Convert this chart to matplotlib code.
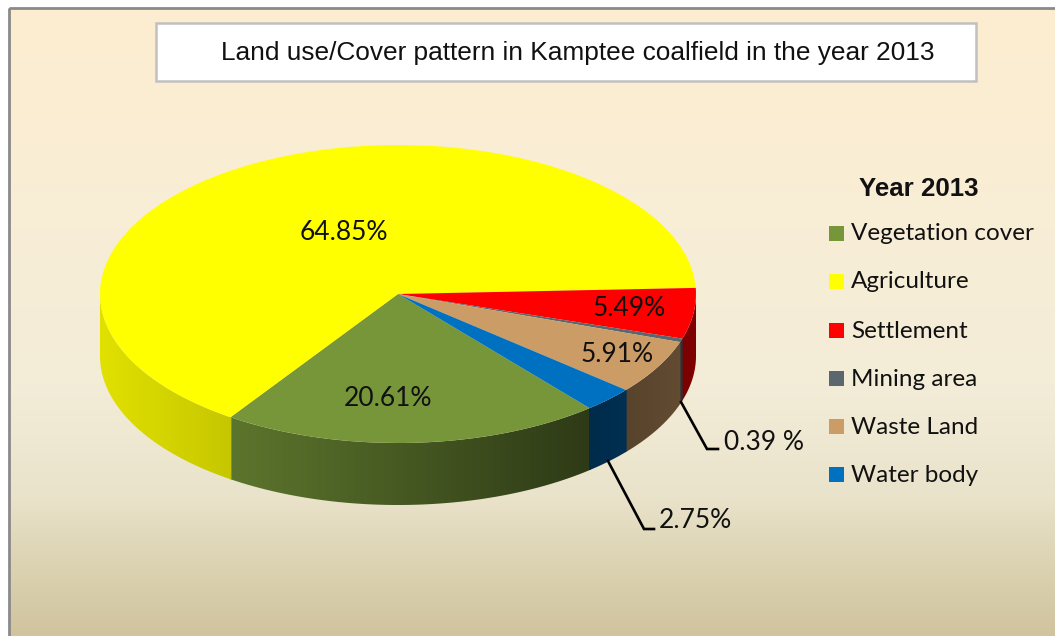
import numpy as np
import matplotlib
matplotlib.use('Agg')
import matplotlib.pyplot as plt
from matplotlib.colors import LinearSegmentedColormap, to_rgb
from matplotlib.patches import Rectangle, Polygon

categories = ['Vegetation cover', 'Agriculture', 'Settlement', 'Mining area', 'Waste Land', 'Water body']
values = [20.61, 64.85, 5.49, 0.39, 5.91, 2.75]
colors = ['#769639', '#ffff00', '#ff0000', '#5b666e', '#cc9c66', '#0070c0']
value_labels = ['20.61%', '64.85%', '5.49%', '0.39 %', '5.91%', '2.75%']
title = 'Land use/Cover pattern in Kamptee coalfield in the year 2013'
legend_title = 'Year 2013'

W, H = 1055, 636
CX, CY, RX, RY, DEPTH = 398, 294, 298, 149, 62
START = -50

BODY = ['Lato', 'DejaVu Sans']
HEAD = ['Liberation Sans', 'DejaVu Sans']

fig = plt.figure(figsize=(W / 100, H / 100), dpi=100, facecolor='white')

# background gradient
ax_bg = fig.add_axes([0, 0, 1, 1], zorder=0)
cmap = LinearSegmentedColormap.from_list('parchment', [
    (0, '#fdedd0'), (0.35, '#f8eed6'), (0.6, '#f3ecd8'), (0.78, '#eae3cb'), (0.85, '#e0d8ba'), (1, '#d0c49e')])
ax_bg.imshow(np.linspace(0, 1, 256).reshape(-1, 1), cmap=cmap, aspect='auto', extent=(9, W, H, 8))
ax_bg.set_xlim(0, W)
ax_bg.set_ylim(H, 0)
ax_bg.axis('off')

# pie: one axes covering the figure, stretched to get the ellipse
ax = fig.add_axes([0, 0, 1, 1], zorder=1)
ax.patch.set_visible(False)
wedges, _ = ax.pie(values, colors=colors, startangle=START, counterclock=False,
                   radius=1, wedgeprops=dict(linewidth=0, zorder=3))

# side wall, darker towards the right
edges = START - np.cumsum([0] + values) * 3.6
d = DEPTH / RY
for i, c in enumerate(colors):
    # small overlap so no gap shows between neighbours
    ts = np.radians(np.linspace(edges[i] + 0.2, edges[i + 1] - 0.2, 400))
    ts = ts[np.sin(ts) <= 0]
    if len(ts) < 2:
        continue
    xs = np.cos(ts)
    ys = np.sin(ts)
    poly = np.column_stack([np.r_[xs, xs[::-1]], np.r_[ys, ys[::-1] - d]])
    xg = np.linspace(xs.min(), xs.max(), 64)
    shade = np.interp(CX + RX * xg, [100, 230, 590, 696], [0.88, 0.78, 0.39, 0.5])
    img = np.clip(shade[None, :, None] * np.array(to_rgb(c))[None, None, :], 0, 1)
    im = ax.imshow(img, aspect='auto', interpolation='bilinear', zorder=2,
                   extent=(xs.min(), xs.max(), ys.min() - d, ys.max()))
    clip = Polygon(poly, closed=True, transform=ax.transData)
    im.set_clip_path(clip)

ax.set_aspect('auto')
ax.set_xlim((0 - CX) / RX, (W - CX) / RX)
ax.set_ylim((CY - H) / RY, CY / RY)
ax.axis('off')

# overlay in pixel coordinates
top = fig.add_axes([0, 0, 1, 1], zorder=2)
top.patch.set_visible(False)
top.set_xlim(0, W)
top.set_ylim(H, 0)
top.axis('off')

top.add_patch(Rectangle((9, 8), W + 20, H + 20, fill=False, edgecolor='#8a8a8a', linewidth=2))
top.add_patch(Rectangle((156, 23), 820, 58, facecolor='white', edgecolor='#c0c0c0', linewidth=1.8))
top.text(577.5, 53, title, ha='center', va='center', family=HEAD, fontsize=18.9, color='#111111')

label_pos = [(388, 397), (344, 231), (629, 308), None, (617, 354), None]
for lab, pos in zip(value_labels, label_pos):
    if pos is not None:
        top.text(pos[0], pos[1] + 1, lab, ha='center', va='center', family=BODY, fontsize=19, color='#111111')

# leader lines
top.plot([681, 707, 718], [402, 449, 449], color='black', lw=1.9, solid_joinstyle='miter')
top.plot([608, 644, 654], [461, 529, 529], color='black', lw=1.9, solid_joinstyle='miter')
top.text(724, 442, value_labels[3], ha='left', va='center', family=BODY, fontsize=19, color='#111111')
top.text(659, 521, value_labels[5], ha='left', va='center', family=BODY, fontsize=19, color='#111111')

# legend
top.text(919, 189, legend_title, ha='center', va='center', family=HEAD, fontsize=18.6, fontweight='bold', color='#111111')
legend_y = [233, 281, 330, 378, 426, 474]
for name, c, y in zip(categories, colors, legend_y):
    top.add_patch(Rectangle((829, y - 7.5), 15, 15, facecolor=c, edgecolor='none'))
    top.text(851, y + 1, name, ha='left', va='center', family=BODY, fontsize=17.5, color='#111111')

fig.savefig('out.png', dpi=100, facecolor='white')
